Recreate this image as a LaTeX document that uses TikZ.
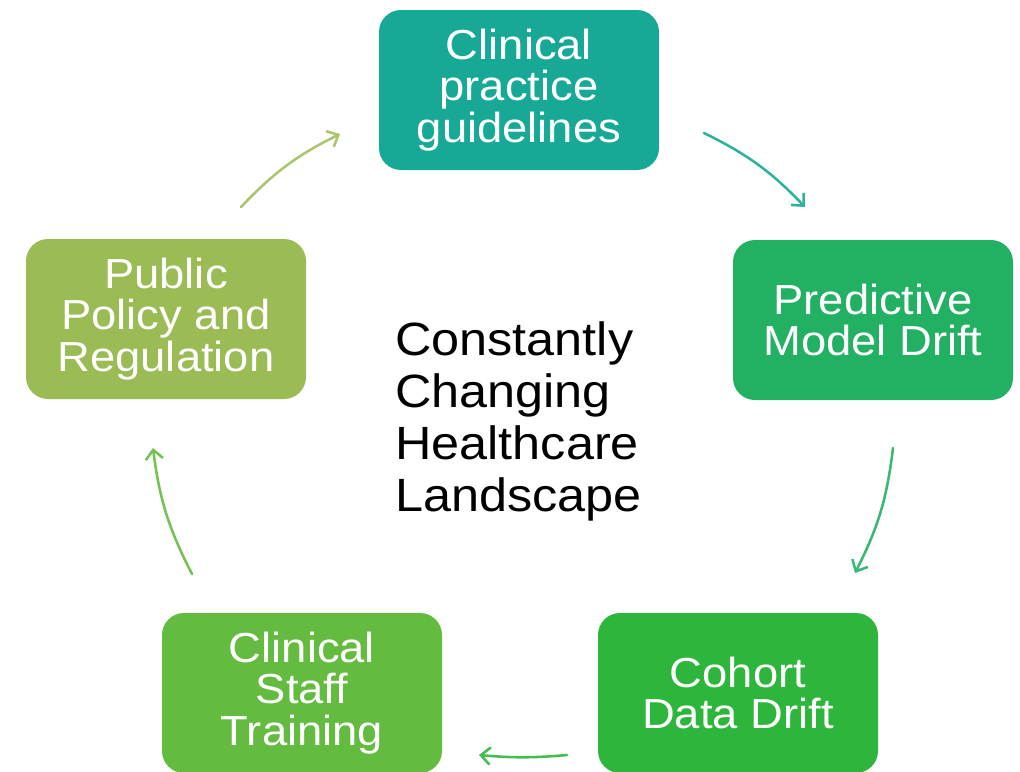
\documentclass[tikz,border=0pt]{standalone}
\usepackage{fontspec}
\setmainfont{Liberation Sans}[FakeStretch=1.08]
\usepackage{xcolor}
\usepackage{tikz}
\usetikzlibrary{arrows.meta}
\definecolor{guide}{HTML}{17A996}
\definecolor{model}{HTML}{22B063}
\definecolor{cohort}{HTML}{2EB53C}
\definecolor{staff}{HTML}{63BB40}
\definecolor{policy}{HTML}{9BBB55}
\tikzset{
  box/.style={rounded corners=16.5pt, minimum width=210pt, minimum height=120pt, inner sep=0pt,
    text=white, align=center, font=\fontsize{31.5}{31}\selectfont},
  arr/.style={line width=1.9pt, line cap=round, -{Straight Barb[length=7pt,width=13pt,line width=1.9pt]}},
  lab/.style={text=black, align=left, inner sep=0pt, font=\fontsize{35}{39}\selectfont},
}
\begin{document}
\begin{tikzpicture}[x=0.75pt,y=-0.75pt]
  \useasboundingbox (0,0) rectangle (1020,771);
  \fill[white] (0,0) rectangle (1020,771);

  \node[box,fill=guide] (guide) at (519,90) {Clinical\\practice\\guidelines};
  \node[box,fill=model] (model) at (873,320) {Predictive\\Model Drift};
  \node[box,fill=cohort] (cohort) at (738,693) {Cohort\\Data Drift};
  \node[box,fill=staff] (staff) at (302,693) {Clinical\\Staff\\Training};
  \node[box,fill=policy] (policy) at (166,319) {Public\\Policy and\\Regulation};

  \node[lab,anchor=west] (land) at (395,421) {Constantly\\Changing\\Healthcare\\Landscape};

  \coordinate (p1) at (241,207);
  \coordinate (g1) at (340,134);
  \coordinate (g2) at (704,133);
  \coordinate (m1) at (805,207);
  \coordinate (m2) at (893,448);
  \coordinate (c1) at (855,573);
  \coordinate (c2) at (567,755);
  \coordinate (s1) at (479,755);
  \coordinate (s2) at (192,574);
  \coordinate (p2) at (153,448);

  \draw[arr,draw=policy!85!white] (p1) to[bend left=10] (g1);
  \draw[arr,draw=guide!90!white] (g2) to[bend left=10] (m1);
  \draw[arr,draw=model!90!white] (m2) to[bend left=10] (c1);
  \draw[arr,draw=cohort!90!white] (c2) to[bend left=5] (s1);
  \draw[arr,draw=staff!90!white] (s2) to[bend left=10] (p2);
\end{tikzpicture}
\end{document}
